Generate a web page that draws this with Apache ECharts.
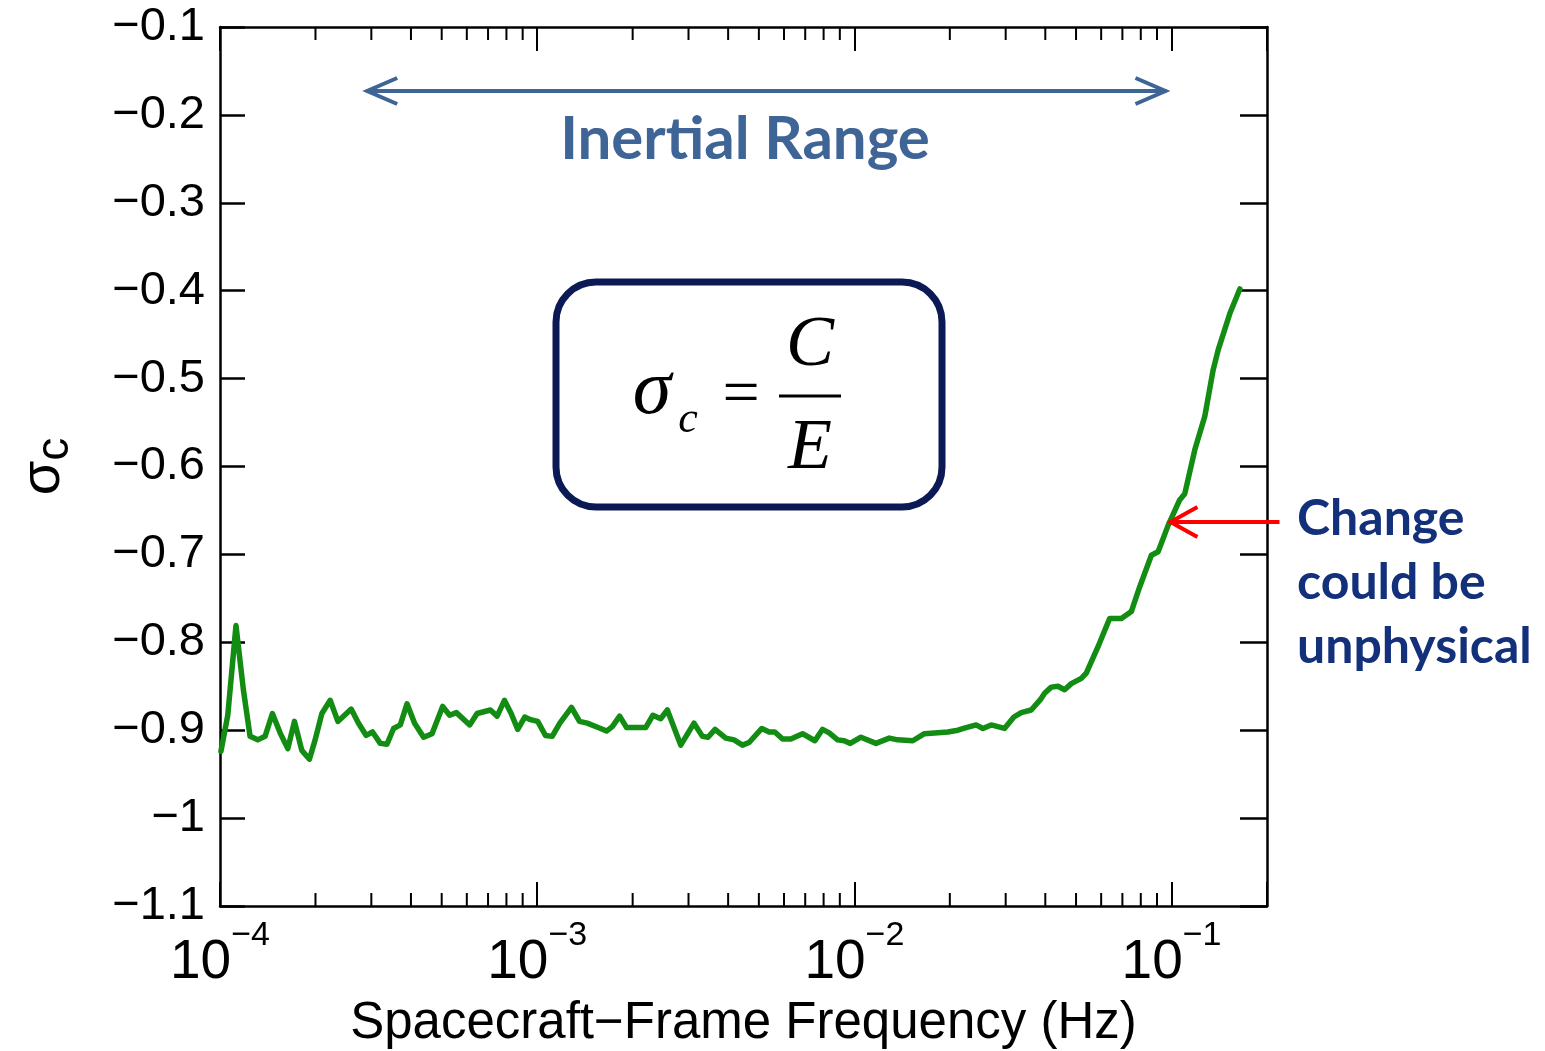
<!DOCTYPE html>
<html>
<head>
<meta charset="utf-8">
<script src="https://cdn.jsdelivr.net/npm/echarts@6/dist/echarts.min.js"></script>
<style>
html,body{margin:0;padding:0;background:#fff;}
#chart{width:1545px;height:1051px;}
</style>
</head>
<body>
<div id="chart"></div>
<script>
// Spacecraft-frame frequency (Hz)
const freq = [
  1.007e-4, 1.058e-4, 1.123e-4, 1.185e-4, 1.244e-4, 1.315e-4, 1.387e-4, 1.463e-4, 1.547e-4, 1.636e-4,
  1.717e-4, 1.811e-4, 1.914e-4, 1.995e-4, 2.095e-4, 2.225e-4, 2.353e-4, 2.592e-4, 2.733e-4, 2.891e-4,
  3.026e-4, 3.201e-4, 3.360e-4, 3.526e-4, 3.702e-4, 3.887e-4, 4.107e-4, 4.385e-4, 4.661e-4, 5.034e-4,
  5.297e-4, 5.562e-4, 6.128e-4, 6.466e-4, 7.122e-4, 7.478e-4, 7.884e-4, 8.278e-4, 8.684e-4, 9.138e-4,
  9.526e-4, 1.004e-3, 1.062e-3, 1.115e-3, 1.179e-3, 1.283e-3, 1.360e-3, 1.438e-3, 1.585e-3, 1.655e-3,
  1.725e-3, 1.820e-3, 1.914e-3, 2.198e-3, 2.317e-3, 2.451e-3, 2.573e-3, 2.835e-3, 3.123e-3, 3.319e-3,
  3.457e-3, 3.638e-3, 3.932e-3, 4.176e-3, 4.439e-3, 4.657e-3, 5.109e-3, 5.387e-3, 5.615e-3, 5.938e-3,
  6.307e-3, 6.866e-3, 7.509e-3, 7.941e-3, 8.331e-3, 8.858e-3, 9.292e-3, 9.708e-3, 1.049e-2, 1.170e-2,
  1.289e-2, 1.370e-2, 1.528e-2, 1.663e-2, 1.971e-2, 2.120e-2, 2.251e-2, 2.421e-2, 2.542e-2, 2.700e-2,
  2.974e-2, 3.184e-2, 3.358e-2, 3.611e-2, 3.864e-2, 3.979e-2, 4.177e-2, 4.385e-2, 4.601e-2, 4.830e-2,
  5.194e-2, 5.386e-2, 5.865e-2, 6.381e-2, 6.949e-2, 7.470e-2, 7.934e-2, 8.640e-2, 9.073e-2, 9.757e-2,
  1.061e-1, 1.101e-1, 1.184e-1, 1.273e-1, 1.353e-1, 1.404e-1, 1.527e-1, 1.642e-1
];
// normalized cross helicity sigma_c
const sigma = [
  -0.924, -0.883, -0.781, -0.854, -0.907, -0.911, -0.907, -0.881, -0.903, -0.921,
  -0.890, -0.923, -0.933, -0.911, -0.881, -0.866, -0.890, -0.876, -0.892, -0.906,
  -0.902, -0.915, -0.916, -0.898, -0.894, -0.870, -0.892, -0.908, -0.904, -0.873,
  -0.883, -0.880, -0.894, -0.881, -0.877, -0.884, -0.866, -0.881, -0.899, -0.885,
  -0.888, -0.890, -0.906, -0.907, -0.892, -0.874, -0.890, -0.892, -0.898, -0.901,
  -0.896, -0.884, -0.897, -0.897, -0.883, -0.887, -0.877, -0.917, -0.892, -0.907,
  -0.908, -0.899, -0.909, -0.911, -0.917, -0.914, -0.898, -0.902, -0.902, -0.910,
  -0.910, -0.904, -0.912, -0.899, -0.903, -0.911, -0.912, -0.915, -0.908, -0.915,
  -0.909, -0.911, -0.912, -0.904, -0.902, -0.900, -0.897, -0.894, -0.898, -0.894,
  -0.898, -0.885, -0.880, -0.877, -0.865, -0.858, -0.851, -0.850, -0.854, -0.847,
  -0.841, -0.835, -0.805, -0.773, -0.773, -0.765, -0.737, -0.701, -0.697, -0.667,
  -0.638, -0.631, -0.581, -0.543, -0.490, -0.467, -0.426, -0.398
];
// axis settings
const xMin = 1e-4, xMax = 0.2;
const yMin = -1.1, yMax = -0.1, yStep = 0.1;
const minorTicks = [2e-4,3e-4,4e-4,5e-4,6e-4,7e-4,8e-4,9e-4,
                    2e-3,3e-3,4e-3,5e-3,6e-3,7e-3,8e-3,9e-3,
                    2e-2,3e-2,4e-2,5e-2,6e-2,7e-2,8e-2,9e-2];
// annotation anchors in data coordinates
const inertialRange = [2.89e-4, 0.0964];
const inertialY = -0.1728;
const pointerTip = [0.0985, -0.663];
const pointerTail = [0.219, -0.663];

const SANS = "'Liberation Sans', Arial, Helvetica, sans-serif";
const CAL = "Lato, 'Open Sans', sans-serif";
const NAVY = '#13307a';
const STEEL = '#3f6496';

const chart = echarts.init(document.getElementById('chart'), null, {renderer: 'canvas'});

function xLabel(v) {
  const e = Math.round(Math.log10(v));
  if (Math.abs(v / Math.pow(10, e) - 1) > 1e-6) return '';
  return '{b|10}{s|' + (e < 0 ? '\u2212' + (-e) : e) + '}';
}
function yLabel(v) {
  const r = parseFloat(v.toFixed(1));
  return String(r).replace('-', '\u2212');
}

const axisLineStyle = {color: '#000', width: 2.5};

const option = {
  animation: false,
  backgroundColor: '#fff',
  grid: {left: 220, right: 278, top: 27, bottom: 145, containLabel: false, outerBoundsMode: 'none'},
  xAxis: [
    {
      type: 'log', logBase: 10, min: xMin, max: xMax, position: 'bottom',
      splitLine: {show: false},
      axisLine: {show: true, lineStyle: axisLineStyle},
      axisTick: {show: true, inside: true, length: 24, lineStyle: {color: '#000', width: 2}},
      axisLabel: {
        show: true, margin: 28, formatter: xLabel, color: '#000',
        rich: {
          b: {fontSize: 55, fontFamily: SANS, color: '#000', lineHeight: 56, verticalAlign: 'bottom'},
          s: {fontSize: 34, fontFamily: SANS, color: '#000', lineHeight: 34, verticalAlign: 'bottom', padding: [0, 0, 37, 0]}
        }
      },
      name: 'Spacecraft\u2212Frame Frequency (Hz)',
      nameLocation: 'middle', nameGap: 92, nameMoveOverlap: false,
      nameTextStyle: {fontSize: 51, fontFamily: SANS, color: '#000'}
    },
    {
      type: 'log', logBase: 10, min: xMin, max: xMax, position: 'top',
      splitLine: {show: false},
      axisLine: {show: true, lineStyle: axisLineStyle},
      axisTick: {show: true, inside: true, length: 24, lineStyle: {color: '#000', width: 2}},
      axisLabel: {show: false}
    }
  ],
  yAxis: [
    {
      type: 'value', min: yMin, max: yMax, interval: yStep, position: 'left',
      splitLine: {show: false},
      axisLine: {show: true, lineStyle: axisLineStyle},
      axisTick: {show: true, inside: true, length: 25, lineStyle: {color: '#000', width: 2.5}},
      axisLabel: {margin: 15, formatter: yLabel, fontSize: 47, fontFamily: SANS, color: '#000'},
      name: '{s|\u03c3}{c|c}',
      nameLocation: 'middle', nameGap: 142, nameRotate: 90, nameMoveOverlap: false,
      nameTextStyle: {
        color: '#000',
        rich: {
          s: {fontSize: 56, fontFamily: SANS, color: '#000', lineHeight: 62, verticalAlign: 'top'},
          c: {fontSize: 46, fontFamily: SANS, color: '#000', lineHeight: 62, verticalAlign: 'bottom', padding: [14, 0, 0, 0]}
        }
      }
    },
    {
      type: 'value', min: yMin, max: yMax, interval: yStep, position: 'right',
      splitLine: {show: false},
      axisLine: {show: true, lineStyle: axisLineStyle},
      axisTick: {show: true, inside: true, length: 27, lineStyle: {color: '#000', width: 2.5}},
      axisLabel: {show: false}
    }
  ],
  series: [
    {
      type: 'line',
      xAxisIndex: 0, yAxisIndex: 0,
      data: freq.map((f, i) => [f, sigma[i]]),
      showSymbol: false,
      symbol: 'none',
      lineStyle: {color: '#128c12', width: 5.5, join: 'round', cap: 'round'},
      z: 5
    },
    {
      type: 'custom',
      xAxisIndex: 0, yAxisIndex: 0,
      data: minorTicks.map(v => [v, yMin]),
      silent: true,
      renderItem: function (params, api) {
        const x = api.value(0);
        const b = api.coord([x, yMin]);
        const t = api.coord([x, yMax]);
        const st = {stroke: '#000', lineWidth: 2};
        return {
          type: 'group',
          children: [
            {type: 'line', shape: {x1: b[0], y1: b[1], x2: b[0], y2: b[1] - 13}, style: st},
            {type: 'line', shape: {x1: t[0], y1: t[1], x2: t[0], y2: t[1] + 13}, style: st}
          ]
        };
      },
      z: 4
    }
  ]
};
chart.setOption(option);

const P = (p) => chart.convertToPixel({xAxisIndex: 0, yAxisIndex: 0}, p);
const aL = P([inertialRange[0], inertialY]);
const aR = P([inertialRange[1], inertialY]);
const rTip = P(pointerTip);
const rTail = P(pointerTail);

const serif = "'Liberation Serif', 'Times New Roman', serif";
chart.setOption({
  graphic: [
    // Inertial range double arrow
    {type: 'line', shape: {x1: aL[0], y1: aL[1], x2: aR[0], y2: aR[1]}, style: {stroke: STEEL, lineWidth: 4}, z: 10},
    {type: 'polyline', shape: {points: [[aL[0] + 31, aL[1] - 13], [aL[0] + 1, aL[1]], [aL[0] + 31, aL[1] + 13]]}, style: {stroke: STEEL, lineWidth: 4, fill: null}, z: 10},
    {type: 'polyline', shape: {points: [[aR[0] - 31, aR[1] - 13], [aR[0] - 1, aR[1]], [aR[0] - 31, aR[1] + 13]]}, style: {stroke: STEEL, lineWidth: 4, fill: null}, z: 10},
    {type: 'text', x: 745, y: 140, z: 10, style: {text: 'Inertial Range', fontSize: 60, fontWeight: 'bold', fontFamily: CAL, fill: STEEL, align: 'center', verticalAlign: 'middle'}},
    // formula box
    {type: 'rect', shape: {x: 556, y: 282, width: 386, height: 225, r: 40}, style: {stroke: '#0b1a55', lineWidth: 7, fill: '#fff'}, z: 10},
    {type: 'text', x: 652, y: 392, z: 11, style: {text: '\u03c3', fontSize: 78, fontStyle: 'italic', fontFamily: serif, fill: '#000', align: 'center', verticalAlign: 'middle'}},
    {type: 'text', x: 688, y: 420, z: 11, style: {text: 'c', fontSize: 44, fontStyle: 'italic', fontFamily: serif, fill: '#000', align: 'center', verticalAlign: 'middle'}},
    {type: 'text', x: 741, y: 397, z: 11, style: {text: '=', fontSize: 66, fontFamily: serif, fill: '#000', align: 'center', verticalAlign: 'middle'}},
    {type: 'line', shape: {x1: 779, y1: 396, x2: 841, y2: 396}, style: {stroke: '#000', lineWidth: 3}, z: 11},
    {type: 'text', x: 810, y: 346, z: 11, style: {text: 'C', fontSize: 72, fontStyle: 'italic', fontFamily: serif, fill: '#000', align: 'center', verticalAlign: 'middle'}},
    {type: 'text', x: 810, y: 449, z: 11, style: {text: 'E', fontSize: 72, fontStyle: 'italic', fontFamily: serif, fill: '#000', align: 'center', verticalAlign: 'middle'}},
    // red pointer
    {type: 'line', shape: {x1: rTail[0], y1: rTail[1], x2: rTip[0] + 2, y2: rTip[1]}, style: {stroke: '#ff0000', lineWidth: 4}, z: 10},
    {type: 'polyline', shape: {points: [[rTip[0] + 28, rTip[1] - 15], [rTip[0] + 1, rTip[1]], [rTip[0] + 28, rTip[1] + 15]]}, style: {stroke: '#ff0000', lineWidth: 4, fill: null}, z: 10},
    {type: 'text', x: 1297, y: 519, z: 10, style: {text: 'Change', fontSize: 50, fontWeight: 'bold', fontFamily: CAL, fill: NAVY, align: 'left', verticalAlign: 'middle'}},
    {type: 'text', x: 1297, y: 583, z: 10, style: {text: 'could be', fontSize: 50, fontWeight: 'bold', fontFamily: CAL, fill: NAVY, align: 'left', verticalAlign: 'middle'}},
    {type: 'text', x: 1297, y: 647, z: 10, style: {text: 'unphysical', fontSize: 50, fontWeight: 'bold', fontFamily: CAL, fill: NAVY, align: 'left', verticalAlign: 'middle'}}
  ]
});
</script>
</body>
</html>
